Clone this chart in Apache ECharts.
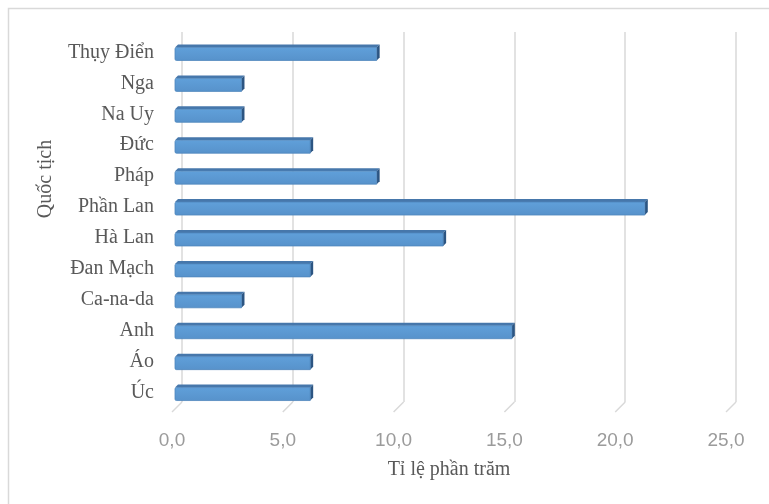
<!DOCTYPE html>
<html>
<head>
<meta charset="utf-8">
<script src="https://cdn.jsdelivr.net/npm/echarts@6/dist/echarts.min.js"></script>
<style>
  html, body { margin: 0; padding: 0; background: #fff; }
  #chart { width: 769px; height: 504px; }
</style>
</head>
<body>
<div id="chart"></div>
<script>
// Countries, top to bottom
const categories = ['Thụy Điển', 'Nga', 'Na Uy', 'Đức', 'Pháp', 'Phần Lan', 'Hà Lan', 'Đan Mạch', 'Ca-na-da', 'Anh', 'Áo', 'Úc'];
// Share of each nationality, percent
const shares = [9.1, 3.0, 3.0, 6.1, 9.1, 21.2, 12.1, 6.1, 3.0, 15.2, 6.1, 6.1];
// Value axis ticks
const tickValues = [0, 5, 10, 15, 20, 25];
const xAxisTitle = 'Tỉ lệ phần trăm';
const yAxisTitle = 'Quốc tịch';

const fmt = v => v.toFixed(1).replace('.', ',');

const chart = echarts.init(document.getElementById('chart'), null, { renderer: 'canvas' });

// Bars drawn as a shallow box: front face, top face and right side
function renderBar(params, api) {
  const idx = api.value(1);
  const start = api.coord([0, idx]);
  const end = api.coord([api.value(0), idx]);
  const d = 3;           // depth offset
  const h = 13;          // front face height
  const x0 = start[0], x1 = end[0];
  const yTop = start[1] - h / 2 + d / 2;
  const yBot = yTop + h;
  return {
    type: 'group',
    children: [
      {
        type: 'polygon',
        shape: { points: [[x0, yTop], [x0 + d, yTop - d], [x1 + d, yTop - d], [x1, yTop]] },
        style: { fill: '#4677ab' }
      },
      {
        type: 'polygon',
        shape: { points: [[x1, yTop], [x1 + d, yTop - d], [x1 + d, yBot - d], [x1, yBot]] },
        style: { fill: '#2c5582' }
      },
      {
        type: 'rect',
        shape: { x: x0, y: yTop, width: x1 - x0, height: h, r: [1.5, 0, 0, 1.5] },
        style: {
          fill: new echarts.graphic.LinearGradient(0, 0, 0, 1, [
            { offset: 0, color: '#60a0da' },
            { offset: 1, color: '#5792cb' }
          ]),
          stroke: '#4f86bd',
          lineWidth: 0.8
        }
      }
    ]
  };
}

// Floor edge of each back-wall gridline
function renderFloorTick(params, api) {
  const p = api.coord([api.value(0), 0]);
  return {
    type: 'line',
    shape: { x1: p[0], y1: p[1], x2: p[0] - 10, y2: p[1] + 10 },
    style: { stroke: '#d9d9d9', lineWidth: 1.5 }
  };
}

const option = {
  backgroundColor: '#ffffff',
  animation: false,
  grid: [
    // bars
    { left: 175, width: 554, top: 37, height: 371 },
    // back wall with gridlines
    { left: 182, width: 554, top: 32, height: 370 },
    // front plane: tick labels and axis title
    { left: 172, width: 554, top: 37, height: 371 }
  ],
  xAxis: [
    {
      gridIndex: 0, type: 'value', min: 0, max: 25, interval: 5,
      axisLine: { show: false }, axisTick: { show: false },
      axisLabel: { show: false }, splitLine: { show: false }
    },
    {
      gridIndex: 1, type: 'value', min: 0, max: 25, interval: 5,
      axisLine: { show: false }, axisTick: { show: false },
      axisLabel: { show: false },
      splitLine: { show: true, lineStyle: { color: '#d9d9d9', width: 1.5 } }
    },
    {
      gridIndex: 2, type: 'value', min: 0, max: 25, interval: 5,
      axisLine: { show: false }, axisTick: { show: false },
      splitLine: { show: false },
      axisLabel: {
        show: true, margin: 23, formatter: fmt,
        fontFamily: 'Liberation Sans', fontSize: 19, color: '#9b9b9b'
      },
      name: xAxisTitle, nameLocation: 'middle', nameGap: 52,
      nameTextStyle: { fontFamily: 'Liberation Serif', fontSize: 20, color: '#595959' }
    }
  ],
  yAxis: [
    {
      gridIndex: 0, type: 'category', data: categories, inverse: true,
      axisLine: { show: false }, axisTick: { show: false }, splitLine: { show: false },
      axisLabel: {
        margin: 21, fontFamily: 'Liberation Serif', fontSize: 20, color: '#595959'
      }
    },
    { gridIndex: 1, type: 'value', min: 0, max: 1, show: false },
    { gridIndex: 2, type: 'value', min: 0, max: 1, show: false }
  ],
  series: [
    {
      type: 'custom',
      xAxisIndex: 1, yAxisIndex: 1,
      renderItem: renderFloorTick,
      data: tickValues.map(v => [v]),
      encode: { x: 0 },
      silent: true, z: 1
    },
    {
      type: 'custom',
      xAxisIndex: 0, yAxisIndex: 0,
      renderItem: renderBar,
      data: shares.map((v, i) => [v, i]),
      encode: { x: 0, y: 1 },
      z: 3
    }
  ],
  graphic: [
    {
      type: 'rect', silent: true,
      shape: { x: 8.5, y: 8.5, width: 800, height: 600 },
      style: { fill: 'none', stroke: '#d9d9d9', lineWidth: 1.5 }
    },
    {
      type: 'text', x: 46, y: 179, rotation: Math.PI / 2,
      style: {
        text: yAxisTitle, align: 'center', verticalAlign: 'middle',
        fontFamily: 'Liberation Serif', fontSize: 20, fill: '#595959'
      }
    }
  ]
};

chart.setOption(option);
</script>
</body>
</html>
